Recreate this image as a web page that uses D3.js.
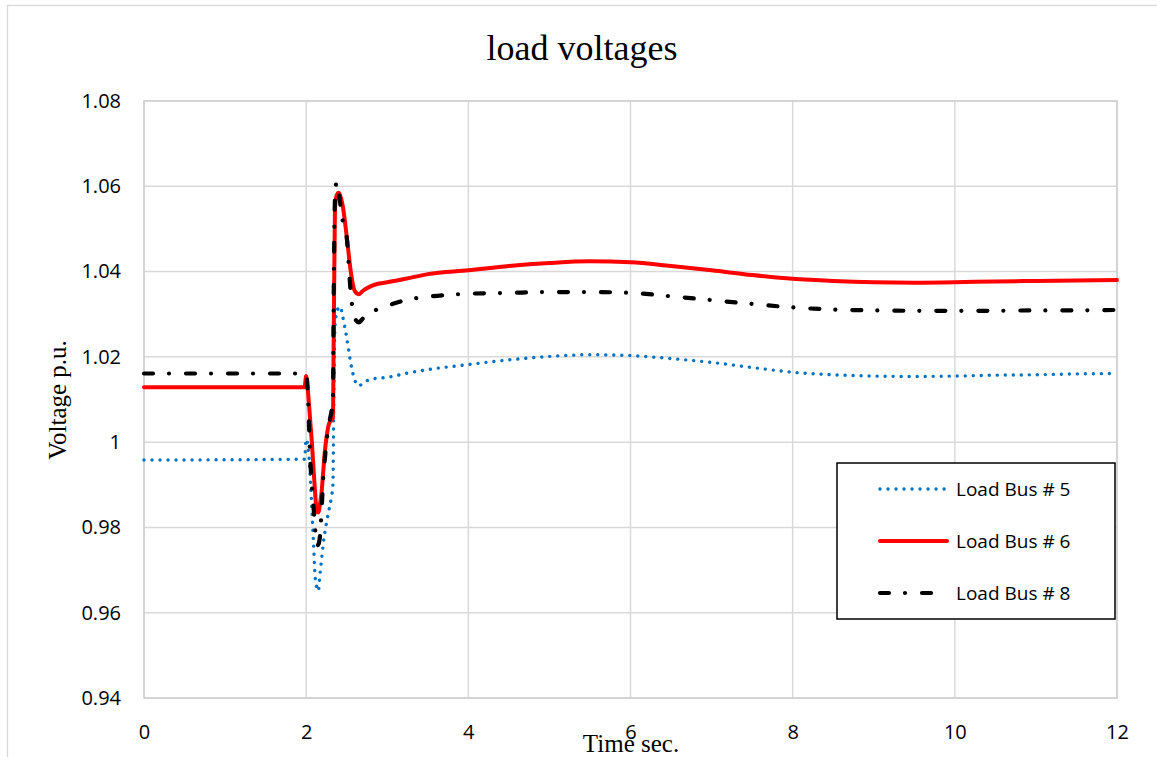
<!DOCTYPE html>
<html>
<head>
<meta charset="utf-8">
<script src="https://cdn.jsdelivr.net/npm/d3@7"></script>
<style>
  html, body { margin: 0; padding: 0; background: #fff; }
  svg { display: block; }
</style>
</head>
<body>
<div id="chart"></div>
<script>
// ---- data ----
const time = [0, 1.98, 2.0, 2.03, 2.05, 2.07, 2.09, 2.11, 2.13, 2.15,
  2.17, 2.19, 2.21, 2.23, 2.25, 2.28, 2.31, 2.33, 2.34, 2.355,
  2.375, 2.40, 2.42, 2.45, 2.50, 2.55, 2.60, 2.65, 2.70, 2.80,
  2.90, 3.0, 3.25, 3.5, 4, 4.5, 5, 5.5, 6, 6.5,
  7, 7.5, 8, 8.5, 9, 9.5, 10, 10.5, 11, 11.5,
  12];
const bus5 = [0.9958, 0.9960, 1.0007, 0.9977, 0.9920, 0.9843, 0.9765, 0.9687, 0.9660, 0.9651,
  0.9690, 0.9726, 0.9760, 0.9788, 0.9810, 0.9840, 0.9870, 0.9900, 1.0080, 1.0271,
  1.0303, 1.0315, 1.0318, 1.0295, 1.0245, 1.0185, 1.0145, 1.0132, 1.0138, 1.0148,
  1.0150, 1.0152, 1.0162, 1.0170, 1.0182, 1.0193, 1.0201, 1.0205, 1.0203, 1.0196,
  1.0187, 1.0175, 1.0164, 1.0158, 1.0155, 1.0154, 1.0155, 1.0157, 1.0158, 1.0160,
  1.0161];
const bus6 = [1.0129, 1.0129, 1.0155, 1.0101, 1.0050, 1.0000, 0.9940, 0.9883, 0.9838, 0.9835,
  0.9855, 0.9882, 0.9930, 0.9977, 1.0010, 1.0042, 1.0052, 1.0056, 1.0250, 1.0546,
  1.0578, 1.0585, 1.0578, 1.0555, 1.0483, 1.0400, 1.0354, 1.0347, 1.0355, 1.0366,
  1.0372, 1.0375, 1.0384, 1.0394, 1.0403, 1.0413, 1.0420, 1.0424, 1.0422, 1.0413,
  1.0403, 1.0392, 1.0383, 1.0378, 1.0375, 1.0374, 1.0375, 1.0377, 1.0378, 1.0379,
  1.0380];
const bus8 = [1.0161, 1.0161, 1.0160, 1.0070, 0.9960, 0.9900, 0.9850, 0.9800, 0.9757, 0.9760,
  0.9780, 0.9840, 0.9913, 0.9960, 1.0000, 1.0040, 1.0070, 1.0090, 1.0350, 1.0570,
  1.0610, 1.0590, 1.0560, 1.0520, 1.0480, 1.0350, 1.0290, 1.0281, 1.0290, 1.0303,
  1.0314, 1.0320, 1.0334, 1.0341, 1.0348, 1.0350, 1.0352, 1.0352, 1.0350, 1.0342,
  1.0333, 1.0324, 1.0316, 1.0311, 1.0309, 1.0308, 1.0308, 1.0308, 1.0309, 1.0309,
  1.0310];
const seriesNames = ["Load Bus # 5", "Load Bus # 6", "Load Bus # 8"];
const xTicks = [0, 2, 4, 6, 8, 10, 12];
const yTicks = [0.94, 0.96, 0.98, 1.00, 1.02, 1.04, 1.06, 1.08];
const yTickLabels = ["0.94", "0.96", "0.98", "1", "1.02", "1.04", "1.06", "1.08"];
const titleText = "load voltages";
const xLabel = "Time sec.";
const yLabel = "Voltage p.u.";

// ---- layout ----
const W = 1157, H = 757;
const plot = { left: 144, right: 1117, top: 101, bottom: 698 };

const svg = d3.select("#chart").append("svg").attr("width", W).attr("height", H);

// outer chart border
svg.append("rect").attr("x", 7.5).attr("y", 5.5).attr("width", W + 10).attr("height", H + 10)
  .attr("fill", "#fff").attr("stroke", "#d9d9d9").attr("stroke-width", 1.3);

const x = d3.scaleLinear().domain([0, 12]).range([plot.left, plot.right]);
const y = d3.scaleLinear().domain([0.94, 1.08]).range([plot.bottom, plot.top]);

// gridlines
const grid = svg.append("g");
grid.selectAll("line.h").data(yTicks).join("line")
  .attr("x1", plot.left).attr("x2", plot.right)
  .attr("y1", d => y(d)).attr("y2", d => y(d))
  .attr("stroke", "#d9d9d9").attr("stroke-width", 1.5);
grid.selectAll("line.v").data(xTicks).join("line")
  .attr("y1", plot.top).attr("y2", plot.bottom)
  .attr("x1", d => x(d)).attr("x2", d => x(d))
  .attr("stroke", "#d9d9d9").attr("stroke-width", 1.5);
// plot area border
svg.append("rect").attr("x", plot.left).attr("y", plot.top)
  .attr("width", plot.right - plot.left).attr("height", plot.bottom - plot.top)
  .attr("fill", "none").attr("stroke", "#cfcfcf").attr("stroke-width", 1.5);

// axes (labels only)
const tickFont = "'Open Sans', 'Noto Sans', sans-serif";
const xAxis = svg.append("g").attr("transform", `translate(0,${plot.bottom})`)
  .call(d3.axisBottom(x).tickValues(xTicks).tickSize(0).tickPadding(27).tickFormat(d3.format("d")));
const yAxis = svg.append("g").attr("transform", `translate(${plot.left},0)`)
  .call(d3.axisLeft(y).tickValues(yTicks).tickSize(0).tickPadding(23)
    .tickFormat((d, i) => yTickLabels[i]));
[xAxis, yAxis].forEach(a => {
  a.select(".domain").remove();
  a.selectAll("text").attr("font-family", tickFont).attr("font-size", 20).attr("fill", "#000");
});

// lines
const styles = [
  { data: bus5, color: "#0070c0", width: 3.4, dash: "0.01 8", cap: "round" },
  { data: bus6, color: "#ff0000", width: 4, dash: null, cap: "round" },
  { data: bus8, color: "#000000", width: 4.2, dash: "9 16 0.01 17", cap: "round" }
];
const line = d3.line().x((d) => x(d[0])).y((d) => y(d[1])).curve(d3.curveMonotoneX);
styles.forEach(s => {
  svg.append("path")
    .datum(time.map((t, i) => [t, s.data[i]]))
    .attr("d", line)
    .attr("fill", "none")
    .attr("stroke", s.color)
    .attr("stroke-width", s.width)
    .attr("stroke-linecap", s.cap)
    .attr("stroke-linejoin", "round")
    .attr("stroke-dasharray", s.dash);
});

// title & axis labels
const serif = "'Liberation Serif', 'Times New Roman', serif";
svg.append("text").attr("x", 582).attr("y", 60).attr("text-anchor", "middle")
  .attr("font-family", serif).attr("font-size", 36).attr("fill", "#000").text(titleText);
svg.append("text").attr("x", 631).attr("y", 752).attr("text-anchor", "middle")
  .attr("font-family", serif).attr("font-size", 25).attr("fill", "#000").text(xLabel);
svg.append("text").attr("transform", "translate(66,400) rotate(-90)").attr("text-anchor", "middle")
  .attr("font-family", serif).attr("font-size", 25).attr("fill", "#000").text(yLabel);

// legend
const lg = svg.append("g");
lg.append("rect").attr("x", 837).attr("y", 463).attr("width", 278).attr("height", 156)
  .attr("fill", "#fff").attr("stroke", "#000").attr("stroke-width", 1.5);
const rowsY = [489, 541, 593];
styles.forEach((s, i) => {
  lg.append("line").attr("x1", 880).attr("x2", 947).attr("y1", rowsY[i]).attr("y2", rowsY[i])
    .attr("stroke", s.color).attr("stroke-width", s.width)
    .attr("stroke-linecap", s.cap).attr("stroke-dasharray", s.dash);
  lg.append("text").attr("x", 956).attr("y", rowsY[i]).attr("dy", "0.35em")
    .attr("font-family", tickFont).attr("font-size", 19).attr("fill", "#000").text(seriesNames[i]);
});
</script>
</body>
</html>
